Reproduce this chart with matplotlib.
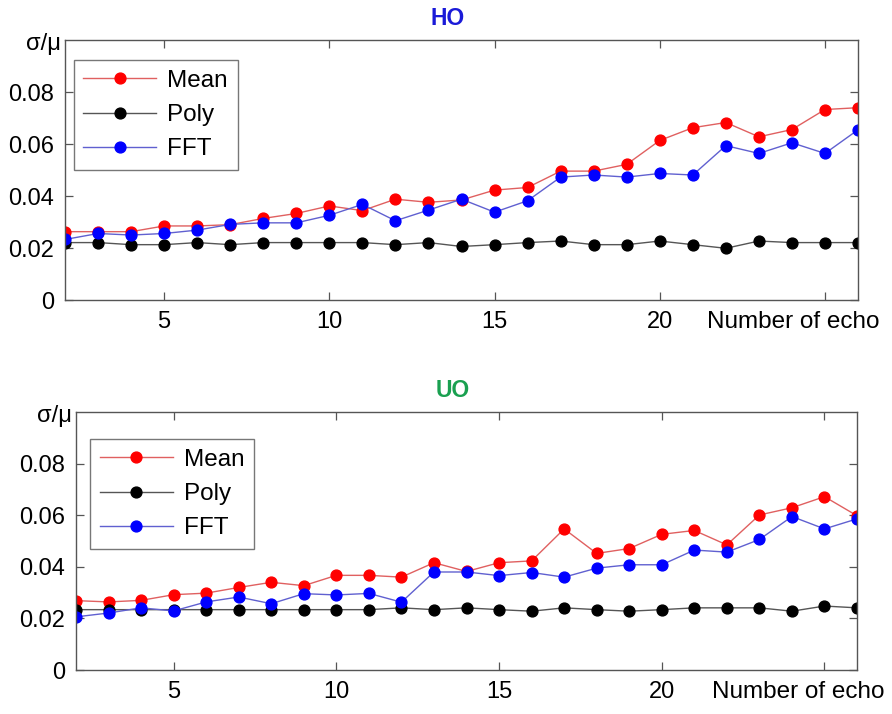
import matplotlib
matplotlib.use("Agg")
import matplotlib.pyplot as plt

plt.rcParams['font.family'] = ['Liberation Sans', 'DejaVu Sans']

echo = list(range(2, 27))

ho_mean = [0.0263, 0.0263, 0.0263, 0.0285, 0.0285, 0.0290, 0.0314, 0.0333, 0.0362, 0.0344,
           0.0388, 0.0376, 0.0385, 0.0423, 0.0433, 0.0496, 0.0496, 0.0522, 0.0614, 0.0663,
           0.0683, 0.0628, 0.0656, 0.0733, 0.0740]
ho_poly = [0.0221, 0.0221, 0.0213, 0.0213, 0.0221, 0.0213, 0.0221, 0.0221, 0.0221, 0.0221,
           0.0213, 0.0221, 0.0206, 0.0213, 0.0221, 0.0227, 0.0213, 0.0213, 0.0227, 0.0213,
           0.0199, 0.0227, 0.0221, 0.0221, 0.0221]
ho_fft = [0.0233, 0.0256, 0.0250, 0.0256, 0.0269, 0.0291, 0.0297, 0.0297, 0.0326, 0.0368,
          0.0305, 0.0346, 0.0388, 0.0338, 0.0382, 0.0473, 0.0481, 0.0473, 0.0487, 0.0481,
          0.0594, 0.0564, 0.0605, 0.0564, 0.0655]

uo_mean = [0.0269, 0.0264, 0.0270, 0.0292, 0.0298, 0.0320, 0.0340, 0.0327, 0.0367, 0.0367,
           0.0360, 0.0416, 0.0382, 0.0416, 0.0423, 0.0547, 0.0452, 0.0471, 0.0526, 0.0541,
           0.0485, 0.0601, 0.0629, 0.0672, 0.0598]
uo_poly = [0.0234, 0.0234, 0.0234, 0.0234, 0.0234, 0.0234, 0.0234, 0.0234, 0.0234, 0.0234,
           0.0241, 0.0234, 0.0241, 0.0234, 0.0228, 0.0241, 0.0234, 0.0228, 0.0234, 0.0241,
           0.0241, 0.0241, 0.0228, 0.0248, 0.0241]
uo_fft = [0.0206, 0.0221, 0.0241, 0.0229, 0.0264, 0.0283, 0.0257, 0.0296, 0.0291, 0.0297,
          0.0263, 0.0380, 0.0380, 0.0366, 0.0378, 0.0360, 0.0395, 0.0408, 0.0408, 0.0465,
          0.0457, 0.0506, 0.0595, 0.0547, 0.0586]

series_names = ["Mean", "Poly", "FFT"]
xticks = [5, 10, 15, 20, 25]
xtick_labels = ["5", "10", "15", "20", ""]
yticks = [0, 0.02, 0.04, 0.06, 0.08]
ytick_labels = ["0", "0.02", "0.04", "0.06", "0.08"]

fig = plt.figure(figsize=(8.92, 7.14), dpi=100)
ax1 = fig.add_axes([0.0729, 0.5798, 0.889, 0.364])
ax2 = fig.add_axes([0.0852, 0.0616, 0.8756, 0.3613])

styles = [
    dict(color="#e06060", mfc="#ff0000", mec="#ff0000"),
    dict(color="#555555", mfc="#000000", mec="#000000"),
    dict(color="#6060d0", mfc="#0000ff", mec="#0000ff"),
]

FS = 17.5

def draw(ax, data, title, tcolor, xlab_pos, leg_anchor):
    for name, vals, st in zip(series_names, data, styles):
        ax.plot(echo, vals, '-o', lw=1.0, ms=7.8, label=name, **st)
    ax.set_xlim(2, 26)
    ax.set_ylim(0, 0.1)
    ax.set_xticks(xticks)
    ax.set_xticklabels(xtick_labels)
    ax.set_yticks(yticks)
    ax.set_yticklabels(ytick_labels)
    ax.tick_params(direction='in', length=6, width=0.9, color="#555555",
                   top=True, right=True, labelsize=17, pad=8)
    for s in ax.spines.values():
        s.set_color("#555555")
        s.set_linewidth(1.0)
    ax.set_title(title, color=tcolor, fontweight='bold', fontsize=16.5, pad=11, x=0.483)
    ax.text(-0.005, 0.985, "σ/μ", transform=ax.transAxes, ha='right', va='center',
            fontsize=17)
    ax.text(xlab_pos[0], xlab_pos[1], "Number of echo", transform=ax.transAxes,
            ha='center', va='center', fontsize=FS)
    leg = ax.legend(loc='upper left', bbox_to_anchor=leg_anchor, fontsize=FS,
                    frameon=True, fancybox=False, edgecolor="#555555",
                    handlelength=3.0, handletextpad=0.45, borderpad=0.4,
                    labelspacing=0.5, borderaxespad=0.0)
    leg.get_frame().set_linewidth(1.0)

draw(ax1, [ho_mean, ho_poly, ho_fft], "HO", "#1a1ad8", (0.918, -0.085), (0.011, 0.923))
draw(ax2, [uo_mean, uo_poly, uo_fft], "UO", "#1aa050", (0.925, -0.085), (0.018, 0.895))

fig.savefig("out.png", dpi=100)
